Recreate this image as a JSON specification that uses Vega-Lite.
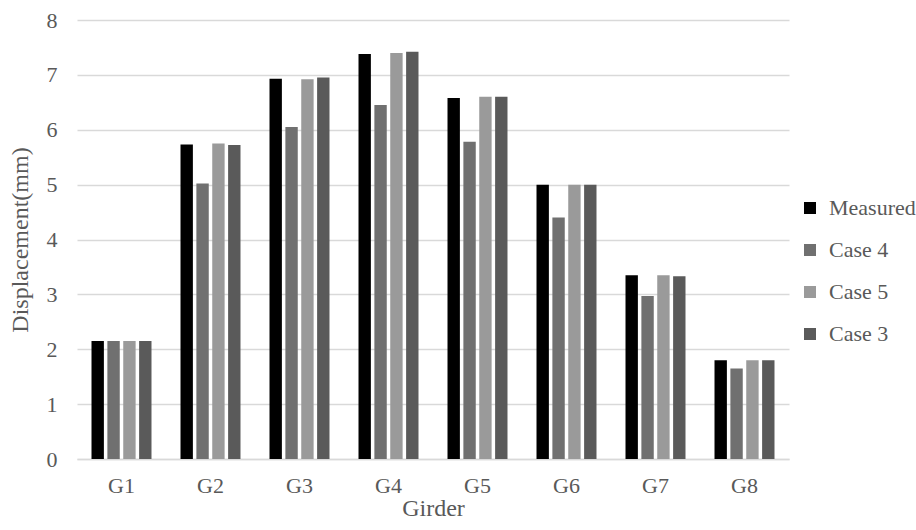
{
  "$schema": "https://vega.github.io/schema/vega-lite/v6.json",
  "width": 712,
  "height": 439,
  "autosize": {"type": "none"},
  "padding": {"left": 77, "top": 20, "right": 127, "bottom": 71},
  "background": "white",
  "data": {
    "values": [
      {"girder": "G1", "series": "Measured", "value": 2.15},
      {"girder": "G1", "series": "Case 4", "value": 2.15},
      {"girder": "G1", "series": "Case 5", "value": 2.15},
      {"girder": "G1", "series": "Case 3", "value": 2.15},
      {"girder": "G2", "series": "Measured", "value": 5.73},
      {"girder": "G2", "series": "Case 4", "value": 5.02},
      {"girder": "G2", "series": "Case 5", "value": 5.75},
      {"girder": "G2", "series": "Case 3", "value": 5.72},
      {"girder": "G3", "series": "Measured", "value": 6.93},
      {"girder": "G3", "series": "Case 4", "value": 6.05},
      {"girder": "G3", "series": "Case 5", "value": 6.92},
      {"girder": "G3", "series": "Case 3", "value": 6.95},
      {"girder": "G4", "series": "Measured", "value": 7.38},
      {"girder": "G4", "series": "Case 4", "value": 6.45},
      {"girder": "G4", "series": "Case 5", "value": 7.4},
      {"girder": "G4", "series": "Case 3", "value": 7.42},
      {"girder": "G5", "series": "Measured", "value": 6.58},
      {"girder": "G5", "series": "Case 4", "value": 5.78},
      {"girder": "G5", "series": "Case 5", "value": 6.6},
      {"girder": "G5", "series": "Case 3", "value": 6.6},
      {"girder": "G6", "series": "Measured", "value": 5.0},
      {"girder": "G6", "series": "Case 4", "value": 4.4},
      {"girder": "G6", "series": "Case 5", "value": 5.0},
      {"girder": "G6", "series": "Case 3", "value": 5.0},
      {"girder": "G7", "series": "Measured", "value": 3.35},
      {"girder": "G7", "series": "Case 4", "value": 2.97},
      {"girder": "G7", "series": "Case 5", "value": 3.35},
      {"girder": "G7", "series": "Case 3", "value": 3.33},
      {"girder": "G8", "series": "Measured", "value": 1.8},
      {"girder": "G8", "series": "Case 4", "value": 1.65},
      {"girder": "G8", "series": "Case 5", "value": 1.8},
      {"girder": "G8", "series": "Case 3", "value": 1.8}
    ]
  },
  "mark": {"type": "bar"},
  "encoding": {
    "x": {
      "field": "girder",
      "type": "nominal",
      "scale": {"paddingInner": 0.326, "paddingOuter": 0.163},
      "axis": {
        "title": "Girder",
        "labelAngle": 0,
        "ticks": false,
        "domainColor": "#d9d9d9",
        "domainWidth": 1.3,
        "labelPadding": 16,
        "titlePadding": 0,
        "grid": false
      }
    },
    "xOffset": {
      "field": "series",
      "type": "nominal",
      "sort": ["Measured", "Case 4", "Case 5", "Case 3"],
      "scale": {"paddingInner": 0.22, "paddingOuter": 0}
    },
    "y": {
      "field": "value",
      "type": "quantitative",
      "scale": {"domain": [0, 8], "nice": false},
      "axis": {
        "title": "Displacement(mm)",
        "values": [0, 1, 2, 3, 4, 5, 6, 7, 8],
        "domain": false,
        "ticks": false,
        "labelPadding": 20,
        "titlePadding": 14,
        "gridColor": "#d9d9d9",
        "gridWidth": 1.3
      }
    },
    "color": {
      "field": "series",
      "type": "nominal",
      "sort": ["Measured", "Case 4", "Case 5", "Case 3"],
      "scale": {
        "domain": ["Measured", "Case 4", "Case 5", "Case 3"],
        "range": ["#000000", "#707070", "#9a9a9a", "#5a5a5a"]
      },
      "legend": {
        "title": null,
        "orient": "none",
        "legendX": 722,
        "legendY": 177,
        "symbolType": "square",
        "symbolSize": 144,
        "symbolStrokeWidth": 0,
        "rowPadding": 20,
        "labelOffset": 8,
        "padding": 0
      }
    }
  },
  "config": {
    "view": {"stroke": null},
    "font": "Liberation Serif",
    "axis": {
      "labelFont": "Liberation Serif",
      "titleFont": "Liberation Serif",
      "labelFontSize": 22,
      "titleFontSize": 24,
      "labelColor": "#595959",
      "titleColor": "#595959",
      "titleFontWeight": "normal"
    },
    "legend": {
      "labelFont": "Liberation Serif",
      "labelFontSize": 22,
      "labelColor": "#595959"
    }
  }
}
